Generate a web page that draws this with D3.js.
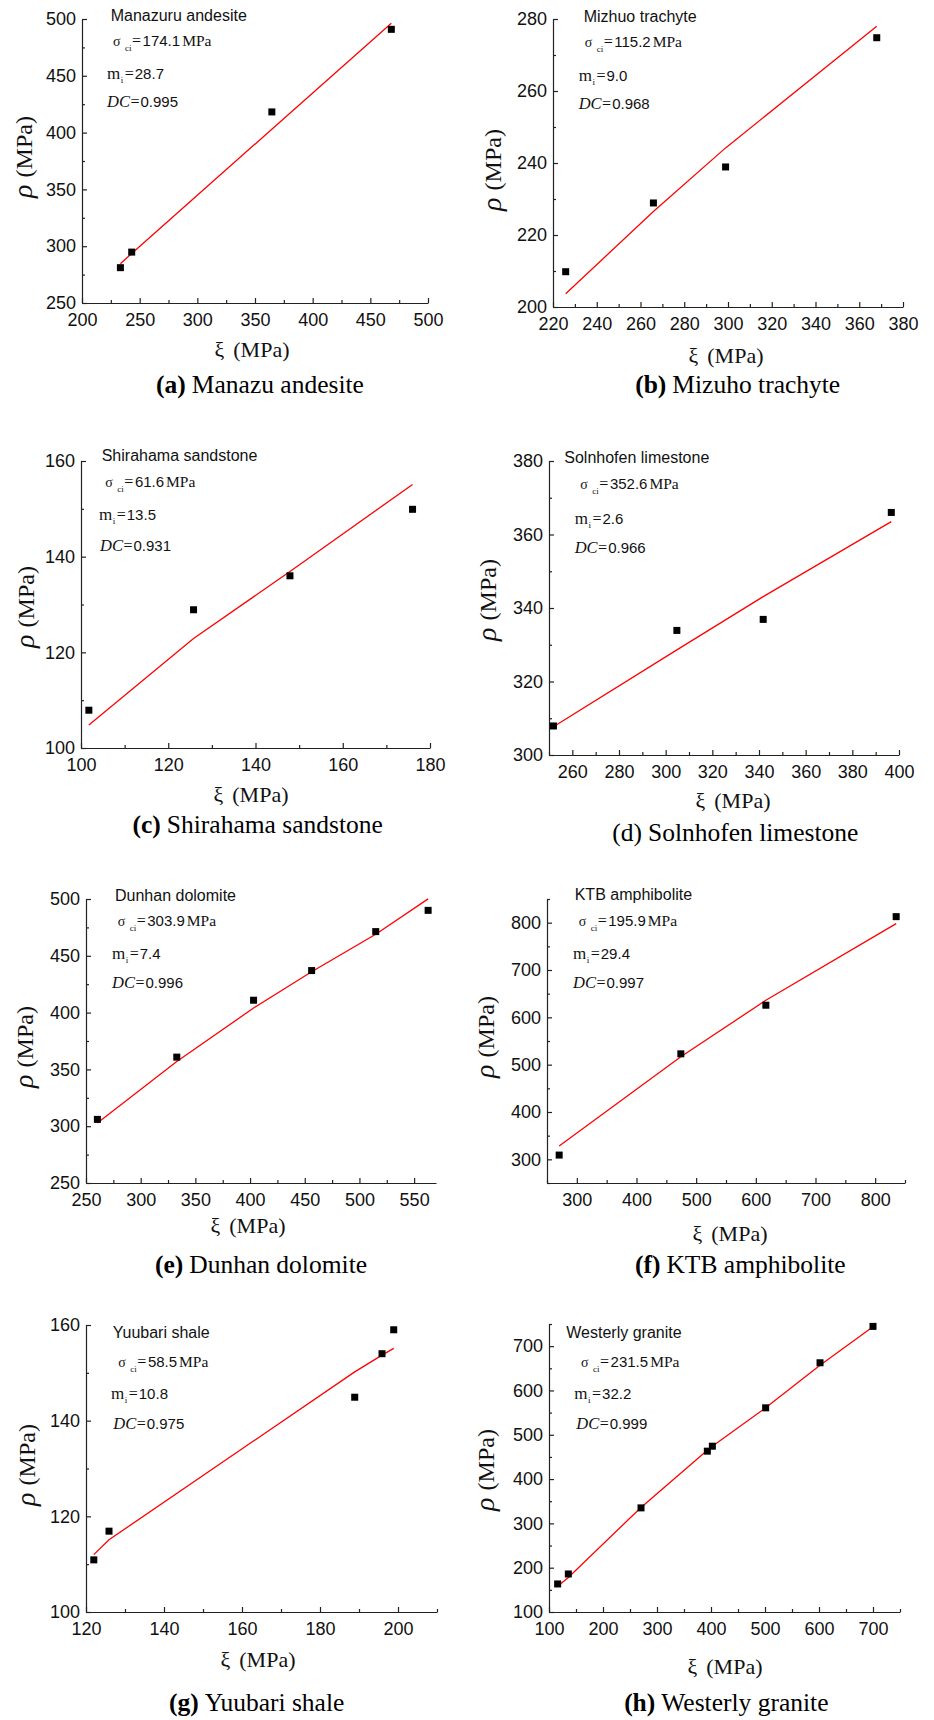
<!DOCTYPE html>
<meta charset="utf-8">
<style>
body {
  margin: 0;
  background: #fff;
}
svg {
  display: block;
}
.tick text {
  font-family: "Liberation Sans", Arial, sans-serif;
  font-size: 18px;
  fill: #111;
}
.axis path,
.axis line {
  stroke: #222;
  stroke-width: 1.2px;
}
.fit {
  fill: none;
  stroke: #f00;
  stroke-width: 1.3px;
}
.pt {
  fill: #000;
}
.serif {
  font-family: "Liberation Serif", "Times New Roman", serif;
}
.sans {
  font-family: "Liberation Sans", Arial, sans-serif;
}
</style>
<body>
<script src="https://cdn.jsdelivr.net/npm/d3@7"></script>
<script>
// ---- values ----
var rockNames = ["Manazuru andesite", "Mizhuo trachyte", "Shirahama sandstone", "Solnhofen limestone",
                 "Dunhan dolomite", "KTB amphibolite", "Yuubari shale", "Westerly granite"];
var captionLetters = ["(a)", "(b)", "(c)", "(d)", "(e)", "(f)", "(g)", "(h)"];
var captionNames = ["Manazu andesite", "Mizuho trachyte", "Shirahama sandstone", "Solnhofen limestone",
                    "Dunhan dolomite", "KTB amphibolite", "Yuubari shale", "Westerly granite"];
var sigmaCi = ["174.1", "115.2", "61.6", "352.6", "303.9", "195.9", "58.5", "231.5"];
var miValues = ["28.7", "9.0", "13.5", "2.6", "7.4", "29.4", "10.8", "32.2"];
var dcValues = ["0.995", "0.968", "0.931", "0.966", "0.996", "0.997", "0.975", "0.999"];

// (a) Manazuru andesite
var andesiteXi  = [233.3, 243.1, 364.6, 468.2];
var andesiteRho = [281.1, 294.8, 418.2, 490.9];
var andesiteFit = [284.6, 293.6, 403.0, 496.2];
// (b) Mizuho trachyte
var trachyteXi  = [225.8, 265.9, 298.9, 368.0];
var trachyteRho = [209.8, 228.9, 238.9, 274.8];
var trachyteFit = [203.7, 226.5, 244.2, 278.0];
// (c) Shirahama sandstone
var sandstoneXi  = [101.8, 125.8, 147.9, 176.0];
var sandstoneRho = [107.9, 128.9, 136.0, 149.9];
var sandstoneFit = [104.8, 122.9, 136.9, 155.1];
// (d) Solnhofen limestone
var limestoneXi  = [251.9, 304.8, 341.8, 396.7];
var limestoneRho = [307.9, 333.9, 336.9, 366.0];
var limestoneFit = [307.7, 328.6, 343.1, 363.5];
// (e) Dunhan dolomite
var dolomiteXi  = [260.4, 333.0, 403.2, 456.3, 514.9, 562.8];
var dolomiteRho = [306.0, 360.8, 410.9, 437.0, 471.3, 490.0];
var dolomiteFit = [302.8, 357.0, 404.0, 436.0, 469.0, 500.1];
// (f) KTB amphibolite
var amphiboliteXi  = [270.4, 474.3, 616.8, 835.2];
var amphiboliteRho = [309.0, 522.9, 625.6, 812.7];
var amphiboliteFit = [328.0, 516.6, 636.0, 798.0];
// (g) Yuubari shale
var shaleXi  = [122.0, 125.9, 188.9, 195.9, 198.9];
var shaleRho = [110.9, 116.9, 144.9, 154.0, 159.0];
var shaleFit = [112.0, 115.1, 150.2, 153.7, 155.1];
// (h) Westerly granite
var graniteXi  = [116.0, 135.8, 270.4, 393.2, 402.5, 501.2, 601.9, 700.0];
var graniteRho = [163.3, 185.8, 335.0, 463.0, 474.2, 560.8, 662.5, 744.6];
var graniteFit = [158.0, 178.0, 336.0, 465.0, 474.0, 561.0, 657.0, 744.0];

// axis ranges and labelled ticks
var xDomains = [[200, 500], [220, 380], [100, 180], [250, 400], [250, 570], [250, 850], [120, 210], [100, 750]];
var yDomains = [[250, 500], [200, 280], [100, 160], [300, 380], [250, 500], [250, 850], [100, 160], [100, 750]];
var xTickLabels = [
  [200, 250, 300, 350, 400, 450, 500],
  [220, 240, 260, 280, 300, 320, 340, 360, 380],
  [100, 120, 140, 160, 180],
  [260, 280, 300, 320, 340, 360, 380, 400],
  [250, 300, 350, 400, 450, 500, 550],
  [300, 400, 500, 600, 700, 800],
  [120, 140, 160, 180, 200],
  [100, 200, 300, 400, 500, 600, 700]
];
var yTickLabels = [
  [250, 300, 350, 400, 450, 500],
  [200, 220, 240, 260, 280],
  [100, 120, 140, 160],
  [300, 320, 340, 360, 380],
  [250, 300, 350, 400, 450, 500],
  [300, 400, 500, 600, 700, 800],
  [100, 120, 140, 160],
  [100, 200, 300, 400, 500, 600, 700]
];
var minorSteps = [25, 10, 10, 10, 25, 50, 10, 50];

var series = [
  [andesiteXi, andesiteRho, andesiteFit],
  [trachyteXi, trachyteRho, trachyteFit],
  [sandstoneXi, sandstoneRho, sandstoneFit],
  [limestoneXi, limestoneRho, limestoneFit],
  [dolomiteXi, dolomiteRho, dolomiteFit],
  [amphiboliteXi, amphiboliteRho, amphiboliteFit],
  [shaleXi, shaleRho, shaleFit],
  [graniteXi, graniteRho, graniteFit]
];

// ---- layout (pixels) ----
// box: left, top, right, bottom of the axes
var layout = [
  {box: [82, 19, 428, 303],    title: [110.7, 20.7],  sig: [113, 46],     m: [107, 78.7],   dc: [107, 106.7],
   yT: [32, 157],   xT: [252, 357],    cap: [260, 393.3],   bold: true},
  {box: [553, 19, 903, 307],   title: [583.7, 21.7],  sig: [584.7, 46.7], m: [578.7, 81],   dc: [578.7, 109],
   yT: [501, 170],  xT: [726, 362.7],  cap: [737.7, 393.3], bold: true},
  {box: [81, 461, 430, 748],   title: [101.7, 460.5], sig: [105.3, 487.3], m: [99, 520],    dc: [100, 550.7],
   yT: [34, 607],   xT: [251, 801.7],  cap: [257.7, 833.3], bold: true},
  {box: [549, 461, 899, 755],  title: [564.3, 463.3], sig: [580.3, 489.3], m: [574.7, 524], dc: [574.7, 553.3],
   yT: [496, 600],  xT: [733, 808.3],  cap: [735.3, 840.7], bold: false},
  {box: [86, 899, 436, 1183],  title: [115, 900.7],   sig: [117.7, 926],  m: [112, 959.3],  dc: [112, 987.7],
   yT: [33, 1047],  xT: [248, 1233.3], cap: [261, 1273.3],  bold: true},
  {box: [547, 899, 905, 1183], title: [574.7, 900],   sig: [578.7, 926],  m: [573, 959.3],  dc: [573, 987.7],
   yT: [494, 1037], xT: [730, 1240.7], cap: [740.3, 1273.3], bold: true},
  {box: [86, 1325, 437, 1612], title: [112.7, 1337.7], sig: [118.3, 1367.3], m: [111, 1399], dc: [113.3, 1429.3],
   yT: [34.5, 1465], xT: [258, 1666.7], cap: [256.7, 1710.7], bold: true},
  {box: [549, 1324, 900, 1612], title: [566.3, 1337.7], sig: [581, 1367.3], m: [574.3, 1399], dc: [576.3, 1429.3],
   yT: [494, 1470], xT: [725, 1674],   cap: [726.3, 1710.7], bold: true}
];

var svg = d3.select("body").append("svg")
    .attr("width", 934)
    .attr("height", 1720);

series.forEach(function(s, i) {
  var L = layout[i];
  var x = d3.scaleLinear().domain(xDomains[i]).range([L.box[0], L.box[2]]);
  var y = d3.scaleLinear().domain(yDomains[i]).range([L.box[3], L.box[1]]);
  var g = svg.append("g");

  var step = minorSteps[i];
  var xMinor = d3.range(xDomains[i][0], xDomains[i][1] + 0.001, step)
      .filter(function(v) { return xTickLabels[i].indexOf(v) < 0; });
  var yMinor = d3.range(yDomains[i][0], yDomains[i][1] + 0.001, step)
      .filter(function(v) { return yTickLabels[i].indexOf(v) < 0; });

  // minor ticks (inward, no labels)
  g.append("g").attr("class", "axis")
      .attr("transform", "translate(0," + L.box[3] + ")")
      .call(d3.axisBottom(x).tickValues(xMinor).tickSizeInner(-3).tickSizeOuter(0).tickFormat(""))
      .select(".domain").remove();
  g.append("g").attr("class", "axis")
      .attr("transform", "translate(" + L.box[0] + ",0)")
      .call(d3.axisLeft(y).tickValues(yMinor).tickSizeInner(-3).tickSizeOuter(0).tickFormat(""))
      .select(".domain").remove();

  // major ticks
  g.append("g").attr("class", "axis")
      .attr("transform", "translate(0," + L.box[3] + ")")
      .call(d3.axisBottom(x).tickValues(xTickLabels[i]).tickSizeInner(-5).tickSizeOuter(0)
            .tickPadding(10).tickFormat(d3.format("d")));
  g.append("g").attr("class", "axis")
      .attr("transform", "translate(" + L.box[0] + ",0)")
      .call(d3.axisLeft(y).tickValues(yTickLabels[i]).tickSizeInner(-5).tickSizeOuter(0)
            .tickPadding(6).tickFormat(d3.format("d")));

  // fitted curve
  var line = d3.line()
      .x(function(d, j) { return x(s[0][j]); })
      .y(function(d) { return y(d); });
  g.append("path")
      .datum(s[2])
      .attr("class", "fit")
      .attr("d", line);

  // test points
  g.selectAll("rect.pt")
      .data(s[1])
    .enter().append("rect")
      .attr("class", "pt")
      .attr("x", function(d, j) { return x(s[0][j]) - 3.5; })
      .attr("y", function(d) { return y(d) - 3.5; })
      .attr("width", 7)
      .attr("height", 7);

  // annotation block
  g.append("text").attr("class", "sans")
      .attr("x", L.title[0]).attr("y", L.title[1])
      .attr("font-size", 16).attr("fill", "#111")
      .text(rockNames[i]);

  var t1 = g.append("text").attr("x", L.sig[0]).attr("y", L.sig[1]).attr("fill", "#111");
  t1.append("tspan").attr("class", "serif").attr("font-size", 14).text("σ");
  t1.append("tspan").attr("class", "serif").attr("font-size", 9).attr("dx", 4.5).attr("dy", 5).text("ci");
  t1.append("tspan").attr("class", "serif").attr("font-size", 16).attr("dx", 0.5).attr("dy", -5).text("=");
  t1.append("tspan").attr("class", "sans").attr("font-size", 15).attr("dx", 1.5).text(sigmaCi[i]);
  t1.append("tspan").attr("class", "serif").attr("font-size", 15.5).attr("dx", 2).text("MPa");

  var t2 = g.append("text").attr("x", L.m[0]).attr("y", L.m[1]).attr("fill", "#111");
  t2.append("tspan").attr("class", "serif").attr("font-size", 17).text("m");
  t2.append("tspan").attr("class", "serif").attr("font-size", 9).attr("dx", 0.5).attr("dy", 4).text("i");
  t2.append("tspan").attr("class", "serif").attr("font-size", 16).attr("dx", 1.5).attr("dy", -4).text("=");
  t2.append("tspan").attr("class", "sans").attr("font-size", 15).attr("dx", 1).text(miValues[i]);

  var t3 = g.append("text").attr("x", L.dc[0]).attr("y", L.dc[1]).attr("fill", "#111");
  t3.append("tspan").attr("class", "serif").attr("font-size", 16.5).attr("font-style", "italic").text("DC");
  t3.append("tspan").attr("class", "serif").attr("font-size", 16).attr("dx", 0.5).text("=");
  t3.append("tspan").attr("class", "sans").attr("font-size", 15).attr("dx", 1).text(dcValues[i]);

  // axis titles
  var yt = g.append("text").attr("class", "serif")
      .attr("transform", "translate(" + L.yT[0] + "," + L.yT[1] + ") rotate(-90)")
      .attr("text-anchor", "middle").attr("font-size", 24).attr("fill", "#111");
  yt.append("tspan").attr("font-style", "italic").attr("font-size", 28).text("ρ");
  yt.append("tspan").attr("dx", 7).text("(MPa)");

  var xt = g.append("text").attr("class", "serif")
      .attr("x", L.xT[0]).attr("y", L.xT[1])
      .attr("text-anchor", "middle").attr("font-size", 22).attr("fill", "#111");
  xt.append("tspan").text("ξ");
  xt.append("tspan").attr("dx", 9).text("(MPa)");

  // caption
  var cap = g.append("text").attr("class", "serif")
      .attr("x", L.cap[0]).attr("y", L.cap[1])
      .attr("text-anchor", "middle").attr("font-size", 25.5).attr("fill", "#000");
  cap.append("tspan").attr("font-weight", L.bold ? "bold" : "normal").text(captionLetters[i]);
  cap.append("tspan").attr("dx", 6).text(captionNames[i]);
});
</script>
</body>
